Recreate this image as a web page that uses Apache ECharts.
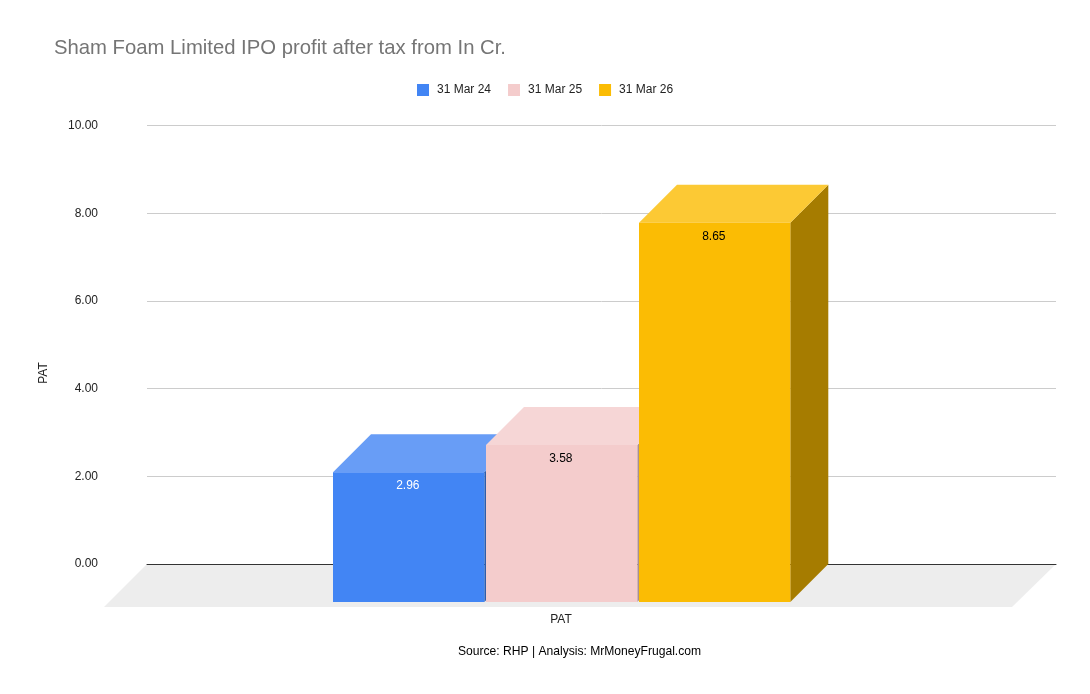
<!DOCTYPE html>
<html>
<head>
<meta charset="utf-8">
<style>html,body{margin:0;padding:0;background:#fff}#c{width:1090px;height:694px}</style>
<script src="https://cdn.jsdelivr.net/npm/echarts@6/dist/echarts.min.js"></script>
</head>
<body>
<div id="c"></div>
<script>
const categories = ['PAT'];
const seriesNames = ['31 Mar 24', '31 Mar 25', '31 Mar 26'];
const values = [2.96, 3.58, 8.65];
const yTicks = { min: 0, max: 10, interval: 2 };
const frontColors = ['#4285F4', '#F4CCCC', '#FBBC04'];
const topColors = ['#689DF6', '#F6D6D6', '#FCC934'];
const sideColors = ['#2E5DAB', '#AB8F8F', '#A67C00'];
const labelColors = ['#ffffff', '#000000', '#000000'];
const FONT = '"Liberation Sans", Arial, sans-serif';
const DEPTH = 38, BAR_W = 151.3, PITCH = 153, SHIFT = -39.5;

function barRenderer(i) {
  return function (params, api) {
    const top = api.coord([api.value(0), api.value(1)]);
    const base = api.coord([api.value(0), 0]);
    const x0 = top[0] + SHIFT + (i - 1.5) * PITCH + 0.5;
    const x1 = x0 + BAR_W;
    const yt = top[1] + DEPTH, yb = base[1] + DEPTH;
    const poly = (pts, fill) => ({ type: 'polygon', shape: { points: pts }, style: { fill: fill } });
    return {
      type: 'group',
      children: [
        poly([[x1, yt], [x1 + DEPTH, yt - DEPTH], [x1 + DEPTH, yb - DEPTH], [x1, yb]], sideColors[i]),
        poly([[x0, yt], [x0 + DEPTH, yt - DEPTH], [x1 + DEPTH, yt - DEPTH], [x1, yt]], topColors[i]),
        { type: 'rect', shape: { x: x0, y: yt, width: BAR_W, height: yb - yt }, style: { fill: frontColors[i] } },
        { type: 'text', style: { text: values[i].toFixed(2), x: x0 + BAR_W / 2 - 0.8, y: yt + 13.5, fill: labelColors[i],
            font: '12px ' + FONT, align: 'center', verticalAlign: 'middle' } }
      ]
    };
  };
}

function floorRenderer(params, api) {
  const cs = params.coordSys;
  const y = api.coord([0, 0])[1];
  return {
    type: 'polygon',
    shape: { points: [[cs.x, y], [cs.x + cs.width, y], [cs.x + cs.width - 44, y + 43], [cs.x - 43, y + 43]] },
    style: { fill: '#EDEDED' }
  };
}

const chart = echarts.init(document.getElementById('c'), null, { renderer: 'canvas' });
chart.setOption({
  animation: false,
  backgroundColor: '#ffffff',
  textStyle: { fontFamily: FONT },
  title: [
    { text: 'Sham Foam Limited IPO profit after tax from In Cr.', left: 49, top: 33,
      textStyle: { color: '#757575', fontSize: 20.3, fontWeight: 'normal', fontFamily: FONT } },
    { text: 'Source: RHP | Analysis: MrMoneyFrugal.com', left: 453, top: 641,
      textStyle: { color: '#000000', fontSize: 12.1, fontWeight: 'normal', fontFamily: FONT } }
  ],
  legend: {
    data: seriesNames.map((n, i) => ({ name: n, icon: 'rect', itemStyle: { color: frontColors[i] } })),
    left: 412, top: 79, itemWidth: 12, itemHeight: 12, itemGap: 17,
    textStyle: { color: '#222222', fontSize: 12, fontFamily: FONT, padding: [0, 0, 0, 3] }
  },
  grid: { left: 147, right: 34, top: 125.5, bottom: 130, containLabel: false },
  xAxis: {
    type: 'category', data: categories, z: 1.5,
    axisLine: { show: true, lineStyle: { color: '#333333', width: 1 } },
    axisTick: { show: false },
    axisLabel: { color: '#222222', fontSize: 12, fontFamily: FONT, margin: 50, padding: [0, 81, 0, 0] }
  },
  yAxis: {
    type: 'value', min: yTicks.min, max: yTicks.max, interval: yTicks.interval,
    axisLine: { show: false }, axisTick: { show: false },
    axisLabel: { color: '#222222', fontSize: 12, fontFamily: FONT, margin: 49, formatter: v => v.toFixed(2) },
    splitLine: { lineStyle: { color: '#CCCCCC', width: 1 } }
  },
  graphic: [
    { type: 'text', x: 44, y: 373, rotation: Math.PI / 2, silent: true,
      style: { text: 'PAT', fill: '#222222', font: '12px ' + FONT, align: 'center', verticalAlign: 'middle' } }
  ],
  series: [
    { type: 'custom', name: 'floor', silent: true, z: 1, renderItem: floorRenderer, data: [[0, 0]], encode: { x: 0, y: 1 }, clip: false }
  ].concat(seriesNames.map((n, i) => ({
    type: 'custom', name: n, z: 2 + i, renderItem: barRenderer(i),
    itemStyle: { color: frontColors[i] }, data: [[0, values[i]]], encode: { x: 0, y: 1 }, clip: false
  })))
});
</script>
</body>
</html>
